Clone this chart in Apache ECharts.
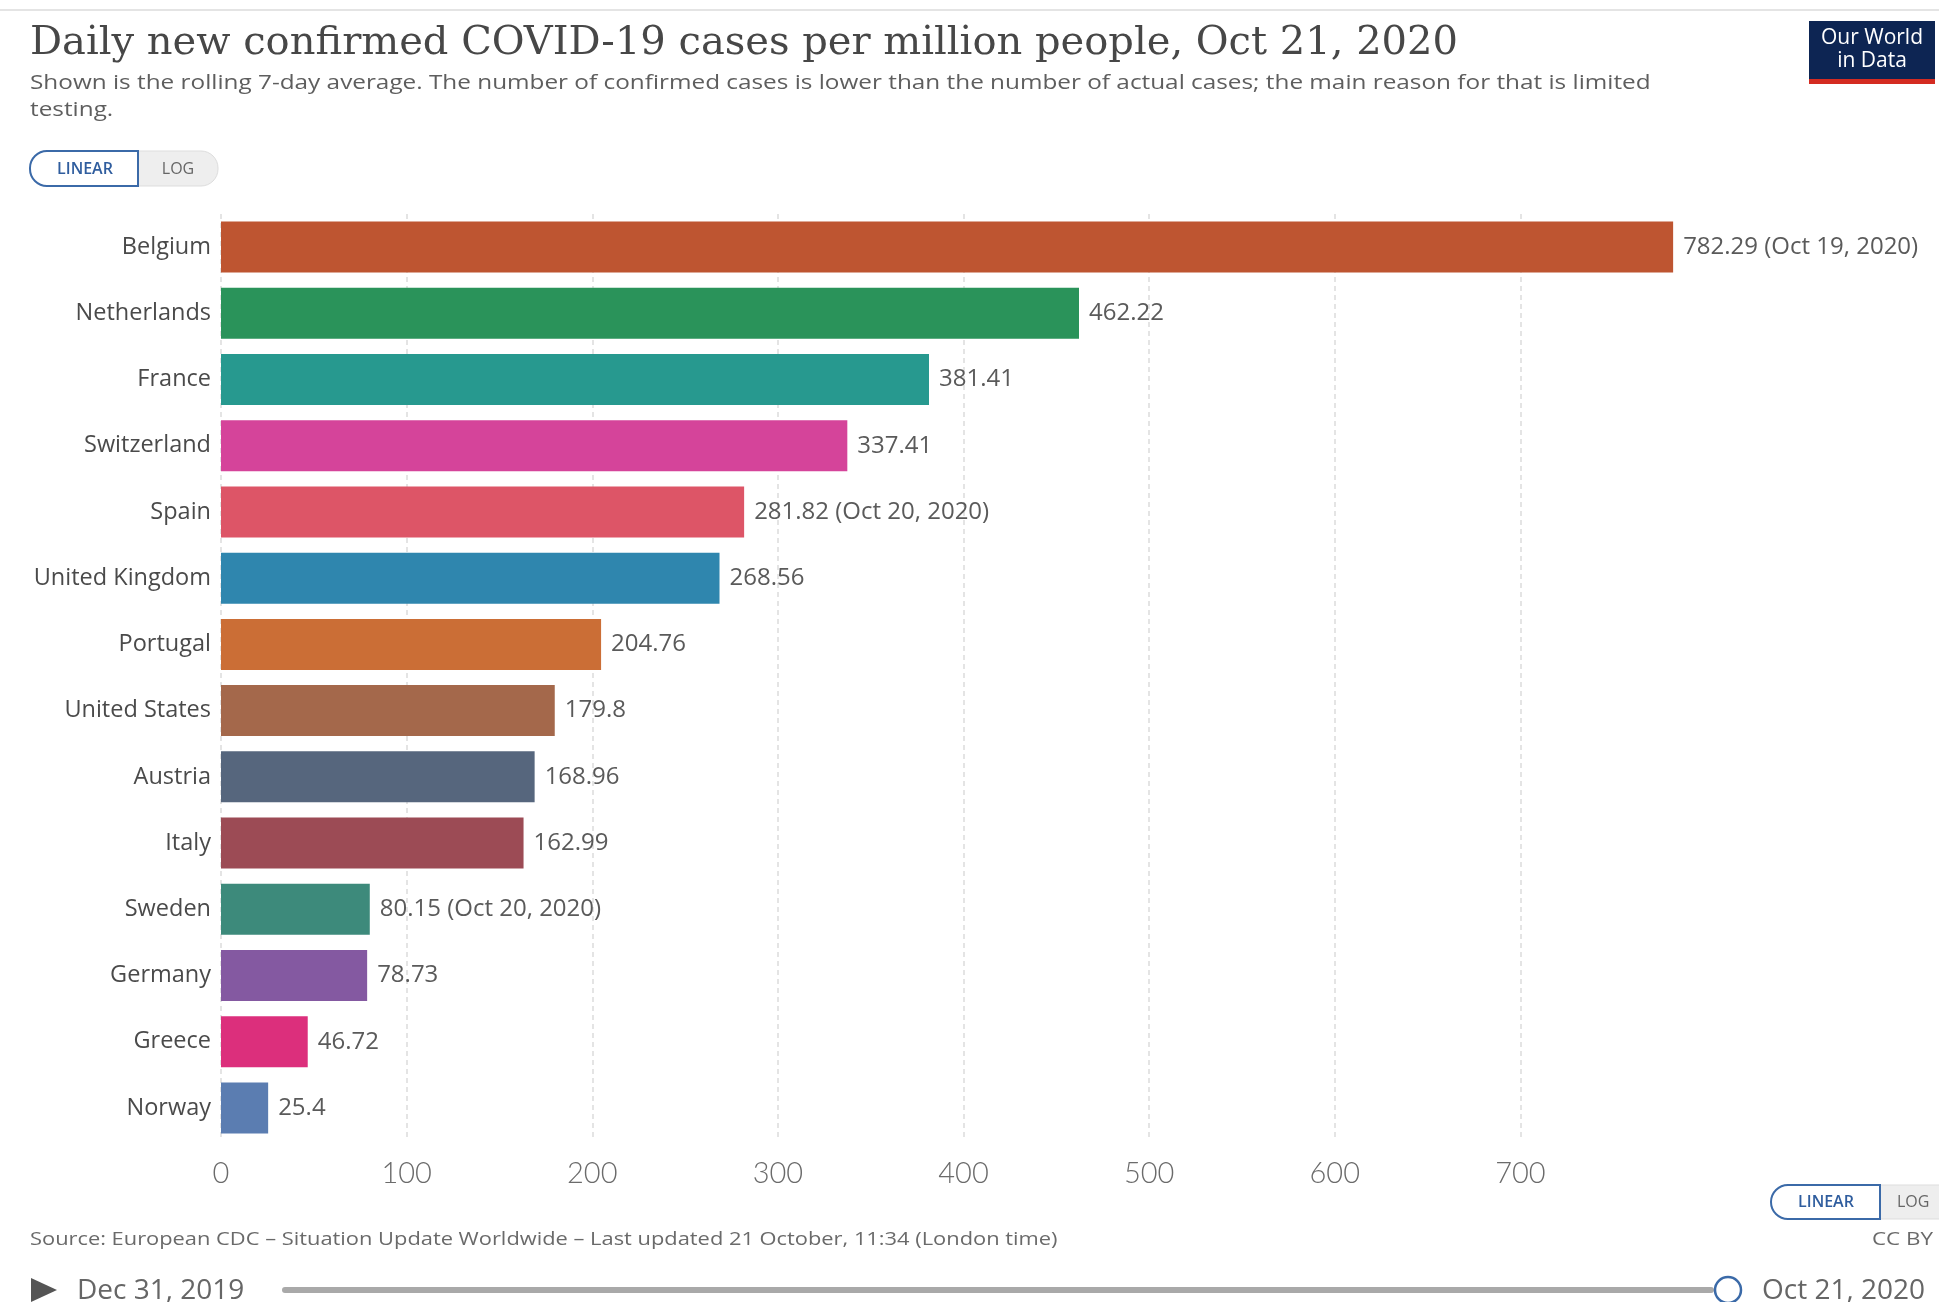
<!DOCTYPE html>
<html>
<head>
<meta charset="utf-8">
<title>Daily new confirmed COVID-19 cases per million people</title>
<script src="https://cdn.jsdelivr.net/npm/echarts@6/dist/echarts.min.js"></script>
<style>
  html, body { margin: 0; padding: 0; background: #fff; }
  #chart { width: 1939px; height: 1302px; }
</style>
</head>
<body>
<div id="chart"></div>
<script>
// Countries, top to bottom
const countries = [
  'Belgium', 'Netherlands', 'France', 'Switzerland', 'Spain', 'United Kingdom',
  'Portugal', 'United States', 'Austria', 'Italy', 'Sweden', 'Germany', 'Greece', 'Norway'
];
// Rolling 7-day average of new confirmed cases per million
const casesPerMillion = [
  782.29, 462.22, 381.41, 337.41, 281.82, 268.56,
  204.76, 179.8, 168.96, 162.99, 80.15, 78.73, 46.72, 25.4
];
// Date of the latest figure where it is not Oct 21, 2020
const dateNotes = [
  'Oct 19, 2020', '', '', '', 'Oct 20, 2020', '',
  '', '', '', '', 'Oct 20, 2020', '', '', ''
];
const barColors = [
  '#be5531', '#2a935a', '#27998f', '#d5449a', '#dd5567', '#2f86ae',
  '#cb6e36', '#a4684b', '#56667d', '#9c4b55', '#3d8a7b', '#8459a1', '#dc2f7c', '#5b7db1'
];
// Value axis ticks
const axisTicks = [0, 100, 200, 300, 400, 500, 600, 700];

const SANS = '"Open Sans", "Noto Sans", sans-serif';
const tickStep = axisTicks[1] - axisTicks[0];
const axisMax = axisTicks[axisTicks.length - 1] + tickStep;

const chart = echarts.init(document.getElementById('chart'), null, { renderer: 'canvas' });

const option = {
  backgroundColor: '#ffffff',
  animation: false,
  grid: { left: 221, right: 233, top: 214, bottom: 161, containLabel: false },
  xAxis: {
    type: 'value',
    min: axisTicks[0],
    max: axisMax,
    interval: tickStep,
    axisLine: { show: false },
    axisTick: { show: false },
    axisLabel: {
      showMaxLabel: false,
      margin: 18,
      color: '#6b6b6b',
      fontFamily: 'Lato, sans-serif',
      fontWeight: 300,
      fontSize: 29
    },
    splitLine: {
      show: true,
      showMinLine: true,
      showMaxLine: false,
      lineStyle: { color: '#dcdcdc', width: 1.5, type: [5, 4] }
    }
  },
  yAxis: {
    type: 'category',
    data: countries,
    inverse: true,
    axisLine: { show: false },
    axisTick: { show: false },
    axisLabel: {
      margin: 10,
      color: '#4a4a4a',
      fontFamily: SANS,
      fontSize: 23.5
    }
  },
  series: [{
    type: 'bar',
    barWidth: 51,
    data: casesPerMillion.map((v, i) => ({
      value: v,
      itemStyle: { color: barColors[i] }
    })),
    label: {
      show: true,
      position: 'right',
      distance: 10,
      color: '#5a5a5a',
      fontFamily: SANS,
      fontSize: 24,
      formatter: p => {
        const note = dateNotes[p.dataIndex];
        return String(p.value) + (note ? ' (' + note + ')' : '');
      }
    }
  }],
  graphic: [
    // thin rule along the top
    { type: 'rect', shape: { x: 0, y: 9, width: 1939, height: 2 }, style: { fill: '#e4e4e4' } },
    // heading
    {
      type: 'text', x: 30, y: 44,
      style: {
        text: 'Daily new confirmed COVID-19 cases per million people, Oct 21, 2020',
        fill: '#474747', font: '40px "DejaVu Serif", "Liberation Serif", serif',
        verticalAlign: 'middle'
      }
    },
    {
      type: 'text', x: 30, y: 70, scaleX: 1.216,
      style: {
        text: 'Shown is the rolling 7-day average. The number of confirmed cases is lower than the number of actual cases; the main reason for that is limited\ntesting.',
        fill: '#5e5e5e', font: '20px ' + SANS, lineHeight: 27
      }
    },
    // scale toggle (top)
    {
      type: 'group', x: 30, y: 151,
      children: [
        { type: 'rect', shape: { x: 0, y: 0, width: 188, height: 35, r: 17 }, style: { fill: '#eeeeee', stroke: '#dddddd', lineWidth: 1 } },
        { type: 'rect', shape: { x: 0, y: 0, width: 108, height: 35, r: [17, 0, 0, 17] }, style: { fill: '#ffffff', stroke: '#3b6aa8', lineWidth: 2 } },
        { type: 'text', style: { x: 55, y: 18, text: 'LINEAR', fill: '#2f5d9e', font: '600 16px ' + SANS, align: 'center', verticalAlign: 'middle' } },
        { type: 'text', style: { x: 148, y: 18, text: 'LOG', fill: '#666666', font: '16px ' + SANS, align: 'center', verticalAlign: 'middle' } }
      ]
    },
    // logo
    {
      type: 'group', x: 1809, y: 21,
      children: [
        { type: 'rect', shape: { x: 0, y: 0, width: 126, height: 63 }, style: { fill: '#0d2553' } },
        { type: 'rect', shape: { x: 0, y: 58, width: 126, height: 5 }, style: { fill: '#d42b21' } },
        { type: 'text', style: { x: 63, y: 17, text: 'Our World', fill: '#ffffff', font: '21px ' + SANS, align: 'center', verticalAlign: 'middle' } },
        { type: 'text', style: { x: 63, y: 40, text: 'in Data', fill: '#ffffff', font: '21px ' + SANS, align: 'center', verticalAlign: 'middle' } }
      ]
    },
    // scale toggle (bottom right)
    {
      type: 'group', x: 1771, y: 1185,
      children: [
        { type: 'rect', shape: { x: 0, y: 0, width: 200, height: 34, r: 17 }, style: { fill: '#eeeeee', stroke: '#dddddd', lineWidth: 1 } },
        { type: 'rect', shape: { x: 0, y: 0, width: 109, height: 34, r: [17, 0, 0, 17] }, style: { fill: '#ffffff', stroke: '#3b6aa8', lineWidth: 2 } },
        { type: 'text', style: { x: 55, y: 17, text: 'LINEAR', fill: '#2f5d9e', font: '600 16px ' + SANS, align: 'center', verticalAlign: 'middle' } },
        { type: 'text', style: { x: 126, y: 17, text: 'LOG', fill: '#666666', font: '16px ' + SANS, align: 'left', verticalAlign: 'middle' } }
      ]
    },
    // footer
    {
      type: 'text', x: 30, y: 1240, scaleX: 1.15,
      style: {
        text: 'Source: European CDC – Situation Update Worldwide – Last updated 21 October, 11:34 (London time)',
        fill: '#6a6a6a', font: '19px ' + SANS, verticalAlign: 'middle'
      }
    },
    {
      type: 'text', x: 1933, y: 1240, scaleX: 1.18,
      style: { text: 'CC BY', fill: '#6a6a6a', font: '19px ' + SANS, align: 'right', verticalAlign: 'middle' }
    },
    // timeline
    { type: 'polygon', shape: { points: [[31, 1278], [31, 1302], [57, 1290]] }, style: { fill: '#555555' } },
    {
      type: 'text', x: 77, y: 1291,
      style: { text: 'Dec 31, 2019', fill: '#666666', font: '28px ' + SANS, verticalAlign: 'middle' }
    },
    { type: 'rect', shape: { x: 282, y: 1287, width: 1432, height: 6, r: 3 }, style: { fill: '#a9a9a9' } },
    { type: 'circle', shape: { cx: 1728, cy: 1290, r: 13 }, style: { fill: '#ffffff', stroke: '#3b6aa8', lineWidth: 2.5 } },
    {
      type: 'text', x: 1762, y: 1291,
      style: { text: 'Oct 21, 2020', fill: '#666666', font: '28px ' + SANS, verticalAlign: 'middle' }
    }
  ]
};

chart.setOption(option);
</script>
</body>
</html>
